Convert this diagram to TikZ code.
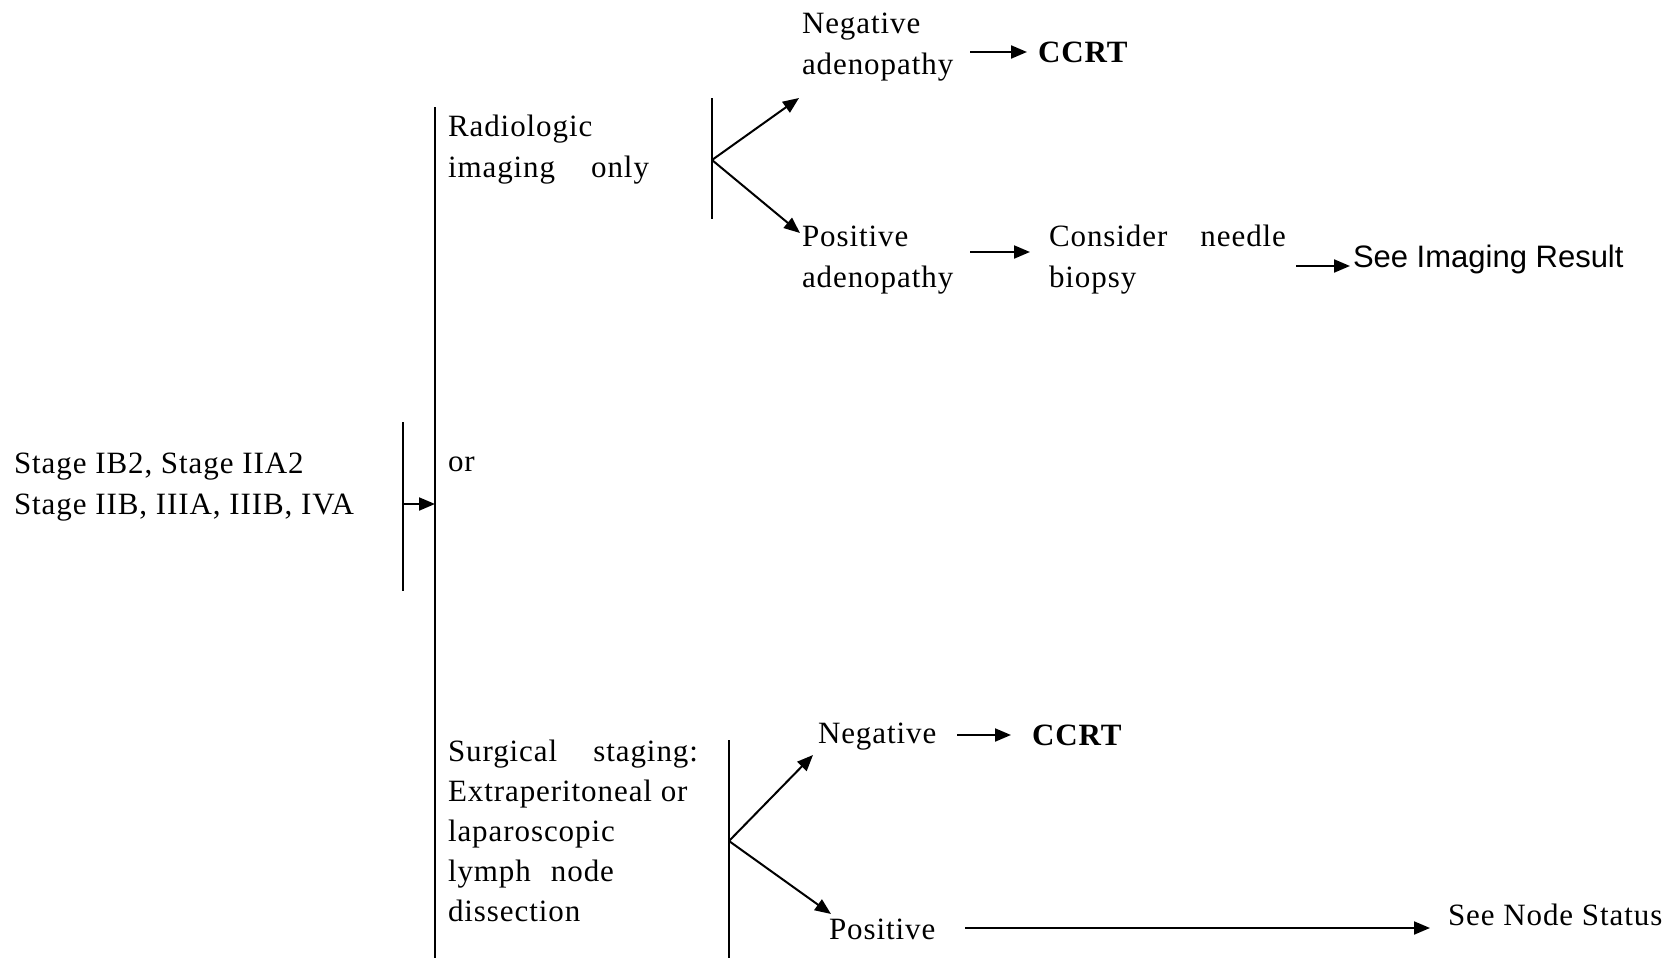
\documentclass[tikz,border=0pt]{standalone}
\usepackage{fontspec}
\setmainfont{Liberation Serif}[LetterSpace=3]
\newfontfamily\arialfont{Liberation Sans}
\usetikzlibrary{arrows.meta,positioning,calc}

\begin{document}
\begin{tikzpicture}[x=0.5pt,y=-0.5pt,
  txt/.style={inner sep=0pt,outer sep=0pt,align=left,anchor=west,font=\fontsize{15.5}{20.5}\selectfont},
  arr/.style={-{Triangle[length=8pt,width=6.5pt]},line width=1pt},
  bar/.style={line width=1pt}]
  \useasboundingbox (0,0) rectangle (1677,958);

  % texts
  \node[txt] (stage) at (14,487) {Stage IB2, Stage IIA2\\Stage IIB, IIIA, IIIB, IVA};
  \node[txt] (or) at (448,464) {or};
  \node[txt] (radio) at (448,150) {Radiologic\\\makebox[100.5pt][s]{imaging only}};
  \node[txt] (negA) at (802,47) {Negative\\adenopathy};
  \node[txt] (ccrtA) at (1038,52) {\textbf{CCRT}};
  \node[txt] (posA) at (802,260) {Positive\\adenopathy};
  \node[txt] (biopsy) at (1049,260) {\makebox[118.5pt][s]{Consider needle}\\biopsy};
  \node[txt,font=\fontsize{15.5}{20.5}\arialfont] (imgres) at (1353,259) {See Imaging Result};
  \node[txt,font=\fontsize{15.5}{20}\selectfont] (surg) at (448,831) {\makebox[125pt][s]{Surgical staging:}\\Extraperitoneal or\\laparoscopic\\\makebox[83pt][s]{lymph node}\\dissection};
  \node[txt] (negB) at (818,737) {Negative};
  \node[txt] (ccrtB) at (1032,735) {\textbf{CCRT}};
  \node[txt] (posB) at (829,929) {Positive};
  \node[txt] (nodestat) at (1448,915) {See Node Status};

  % brackets
  \coordinate (stageTop) at (403,422);
  \coordinate (stageBot) at (403,591);
  \coordinate (stageMid) at (403,504);
  \coordinate (mainTop) at (435,107);
  \coordinate (mainBot) at (435,958);
  \draw[bar] (stageTop) -- (stageBot);
  \draw[bar] (mainTop) -- (mainBot);
  \draw[arr] (stageMid) -- (stageMid -| mainTop);

  \coordinate (radioTop) at (712,98);
  \coordinate (radioBot) at (712,219);
  \coordinate (radioMid) at (712,160);
  \coordinate (negAin) at (799,98);
  \coordinate (posAin) at (800,233);
  \draw[bar] (radioTop) -- (radioBot);
  \draw[arr] (radioMid) -- (negAin);
  \draw[arr] (radioMid) -- (posAin);

  \coordinate (surgTop) at (729,740);
  \coordinate (surgBot) at (729,958);
  \coordinate (surgMid) at (729,841);
  \coordinate (negBin) at (813,755);
  \coordinate (posBin) at (831,914);
  \draw[bar] (surgTop) -- (surgBot);
  \draw[arr] (surgMid) -- (negBin);
  \draw[arr] (surgMid) -- (posBin);

  % arrows between texts
  \draw[arr,shorten <=8.5pt,shorten >=5.5pt] (negA.east |- ccrtA) -- (ccrtA);
  \draw[arr,shorten <=8.5pt,shorten >=9.5pt] (posA.east |- 0,252) -- (biopsy.west |- 0,252);
  \draw[arr,shorten <=5pt,shorten >=1.5pt] (biopsy.east |- 0,266) -- (imgres.west |- 0,266);
  \draw[arr,shorten <=10.5pt,shorten >=10.5pt] (negB.east |- ccrtB) -- (ccrtB);
  \draw[arr,shorten <=15pt,shorten >=9pt] (posB.east |- 0,928) -- (nodestat.west |- 0,928);
\end{tikzpicture}
\end{document}
